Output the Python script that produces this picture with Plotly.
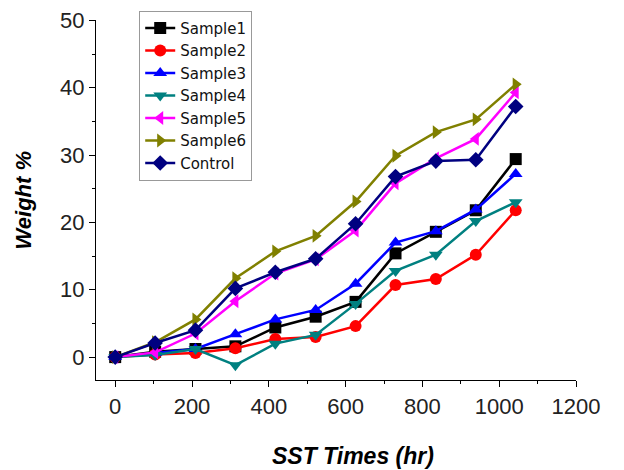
import plotly.graph_objects as go

# SST exposure time (hr)
sst_times = [0, 104, 209, 313, 417, 522, 626, 730, 835, 939, 1043]

sample1 = [0, 0.8, 1.2, 1.6, 4.4, 6.0, 8.2, 15.4, 18.6, 21.8, 29.4]
sample2 = [0, 0.4, 0.6, 1.3, 2.7, 3.0, 4.6, 10.7, 11.6, 15.2, 21.8]
sample3 = [0, 0.6, 1.2, 3.4, 5.6, 7.0, 10.9, 17.0, 18.7, 21.9, 27.2]
sample4 = [0, 0.3, 1.2, -1.2, 2.0, 3.3, 7.9, 12.8, 15.2, 20.2, 23.0]
sample5 = [0, 0.7, 3.5, 8.3, 12.4, 14.5, 18.8, 25.8, 29.5, 32.4, 39.3]
sample6 = [0, 2.2, 5.6, 11.7, 15.7, 18.0, 23.1, 29.9, 33.4, 35.3, 40.5]
control = [0, 2.1, 4.0, 10.2, 12.6, 14.6, 19.8, 26.8, 29.1, 29.3, 37.2]

series_names = ["Sample1", "Sample2", "Sample3", "Sample4", "Sample5", "Sample6", "Control"]
series_values = [sample1, sample2, sample3, sample4, sample5, sample6, control]
colors = ["#000000", "#ff0000", "#0000ff", "#008080", "#ff00ff", "#808000", "#000080"]
symbols = ["square", "circle", "triangle-up", "triangle-down", "triangle-left",
           "triangle-right", "diamond"]

fig = go.Figure()
for name, vals, color, sym in zip(series_names, series_values, colors, symbols):
    fig.add_trace(go.Scatter(
        x=sst_times, y=vals, name=name, mode="lines+markers",
        line=dict(color=color, width=2.5),
        marker=dict(symbol=sym, size=12, color=color),
    ))

axis_style = dict(
    showline=True, linecolor="#000", linewidth=1.3, mirror=False,
    showgrid=False, zeroline=False, ticks="outside", ticklen=6,
    tickwidth=1.3, tickcolor="#000", automargin=False,
    tickfont=dict(family="Liberation Sans, Arial", size=22, color="#222"),
)

# page body has an 8px margin, so the figure sits 8px in from the top/left
fig.update_layout(
    width=616, height=462,
    margin=dict(l=88, r=48, t=12, b=90, autoexpand=False),
    paper_bgcolor="white", plot_bgcolor="white",
    showlegend=True,
    legend=dict(
        xref="container", yref="container",
        x=0.213, y=0.994, xanchor="left", yanchor="top",
        bordercolor="#999", borderwidth=1, bgcolor="white",
        font=dict(family="DejaVu Sans", size=15, color="#111"),
        tracegroupgap=0, itemwidth=30,
    ),
    xaxis=dict(range=[-50, 1200], dtick=200, tick0=0,
               minor=dict(dtick=100, ticks="outside", ticklen=3, tickcolor="#000"),
               **axis_style),
    yaxis=dict(range=[-3.4, 50.05], dtick=10, tick0=0,
               minor=dict(dtick=5, ticks="outside", ticklen=3, tickcolor="#000"),
               **axis_style),
    annotations=[
        dict(text="<b><i>SST Times (hr)</i></b>", xref="paper", yref="paper",
             x=0.535, y=-0.21, xanchor="center", yanchor="middle", showarrow=False,
             font=dict(family="Liberation Sans, Arial", size=23, color="#000")),
        dict(text="<b><i>Weight %</i></b>", xref="paper", yref="paper",
             x=-0.153, y=0.5, xanchor="center", yanchor="middle", showarrow=False,
             textangle=-90,
             font=dict(family="Liberation Sans, Arial", size=22, color="#000")),
    ],
)

fig.write_html("out.html")
